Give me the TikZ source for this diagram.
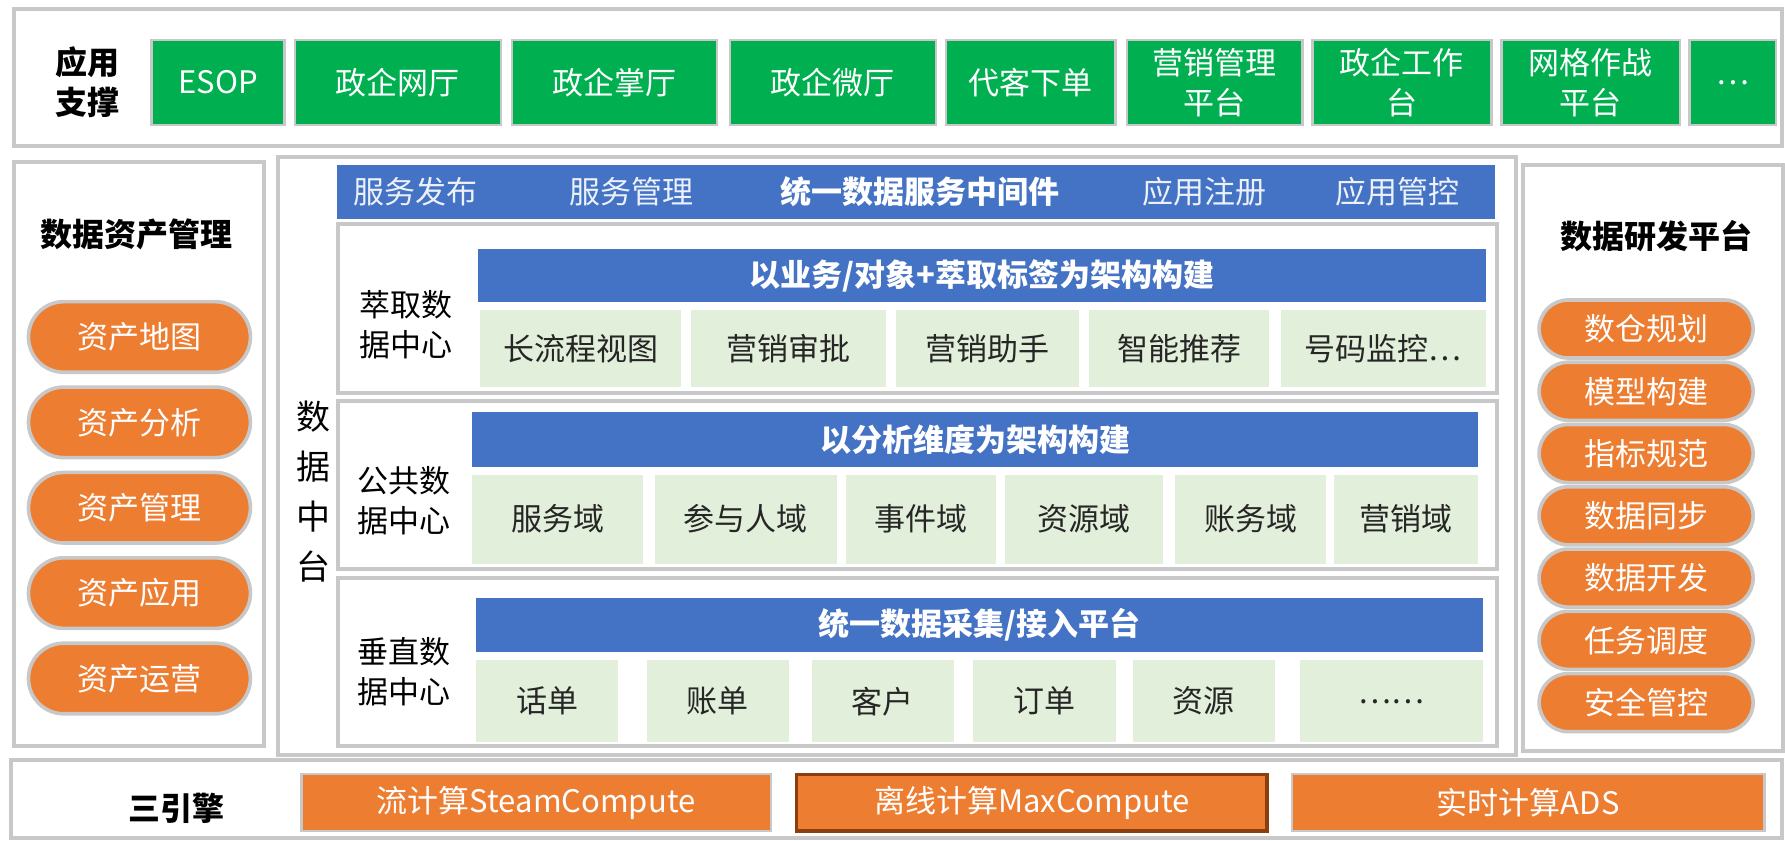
\documentclass[tikz,border=0pt]{standalone}
\usepackage{fontspec}
\setmainfont{Noto Sans CJK SC}
\usetikzlibrary{shapes.misc}

\definecolor{appgreen}{RGB}{0,176,80}
\definecolor{barblue}{RGB}{68,114,196}
\definecolor{pillorange}{RGB}{237,125,49}
\definecolor{cellgreen}{RGB}{226,239,218}
\definecolor{edgegray}{RGB}{200,200,200}
\definecolor{darkbrown}{RGB}{140,62,14}

\begin{document}
\begin{tikzpicture}[x=0.5692pt, y=-0.5692pt,
  wh/.style 2 args={minimum width=#1*0.5692pt, minimum height=#2*0.5692pt},
  every node/.style={inner sep=0pt, align=center, font=\fontsize{15.5}{20}\selectfont},
  panel/.style={draw=edgegray, line width=2pt, fill=white},
  appbox/.style={fill=appgreen, draw=edgegray, line width=1.2pt, text=white},
  pill/.style={rounded rectangle, fill=pillorange, draw=edgegray, line width=1.8pt, text=white},
  bar/.style={fill=barblue, text=white},
  cell/.style={fill=cellgreen, text=black!85},
  engine/.style={fill=pillorange, draw=edgegray, line width=1.2pt, text=white},
  heading/.style={font=\fontsize{16}{20}\selectfont\bfseries, text=black}]

\useasboundingbox (0,0) rectangle (1568,738);

% les cadres
\node[panel, wh={1553}{120}] (apps) at (788.5,68) {};
\node[panel, wh={220}{513}] (assets) at (122,398.5) {};
\node[panel, wh={1088}{525}] (middle) at (788,400.5) {};
\node[panel, wh={228}{515}] (devplat) at (1452,402.5) {};
\node[panel, wh={1555}{68}] (engines) at (787.5,702) {};

% applications
\node[heading] (appsT) at (77,72) {应用\\支撑};
\node[appbox, wh={117}{75}] (esop) at (191.5,72.5) {ESOP};
\node[appbox, wh={181}{75}] (wangting) at (349.5,72.5) {政企网厅};
\node[appbox, wh={180}{75}] (zhangting) at (540,72.5) {政企掌厅};
\node[appbox, wh={181}{75}] (weiting) at (731.5,72.5) {政企微厅};
\node[appbox, wh={149}{75}] (daike) at (905.5,72.5) {代客下单};
\node[appbox, wh={154}{75}] (yingxiao) at (1067,72.5) {营销管理\\平台};
\node[appbox, wh={157}{75}] (gongzuo) at (1231.5,72.5) {政企工作\\台};
\node[appbox, wh={157}{75}] (wangge) at (1397.5,72.5) {网格作战\\平台};
\node[appbox, wh={76}{75}] (appmore) at (1522,72.5) {…};

% gestion des actifs
\node[heading] (assetsT) at (120,206) {数据资产管理};
\foreach \t [count=\i] in {资产地图,资产分析,资产管理,资产应用,资产运营}
  \node[pill, wh={195}{62}] (asset\i) at (122.5,{296+75*(\i-1)}) {\t};

% plateforme de dev
\node[heading] (devT) at (1455,207) {数据研发平台};
\foreach \t [count=\i] in {数仓规划,模型构建,指标规范,数据同步,数据开发,任务调度,安全管控}
  \node[pill, wh={188}{51}] (dev\i) at (1446,{289+54.7*(\i-1)}) {\t};

% le milieu
\node[font=\fontsize{17}{25}\selectfont] (midT) at (275,432) {数\\据\\中\\台};
\node[bar, wh={1017}{47}] (svcbar) at (804.5,168.5) {};
\node[text=white!90!barblue] (svc1) at (365,168) {服务发布};
\node[text=white!90!barblue] (svc2) at (555,168) {服务管理};
\node[text=white, font=\fontsize{15.5}{20}\selectfont\bfseries] (svc3) at (808,168) {统一数据服务中间件};
\node[text=white!90!barblue] (svc4) at (1058,168) {应用注册};
\node[text=white!90!barblue] (svc5) at (1228,168) {应用管控};

% centre extraction
\node[panel, wh={1018}{148}] (cuiqu) at (806,271) {};
\node (cuiquT) at (357,285) {萃取数\\据中心};
\node[bar, wh={885}{46}, font=\fontsize{15.5}{20}\selectfont\bfseries] (cuiquBar) at (862.5,242) {以业务/对象+萃取标签为架构构建};
\node[cell, wh={176}{68}] (cq1) at (510,306) {长流程视图};
\node[cell, wh={171}{68}] (cq2) at (692.5,306) {营销审批};
\node[cell, wh={161}{68}] (cq3) at (867.5,306) {营销助手};
\node[cell, wh={158}{68}] (cq4) at (1036,306) {智能推荐};
\node[cell, wh={180}{68}] (cq5) at (1215,306) {号码监控…};

% centre public
\node[panel, wh={1018}{148}] (gonggong) at (806,426) {};
\node (gonggongT) at (355,440) {公共数\\据中心};
\node[bar, wh={883}{48}, font=\fontsize{15.5}{20}\selectfont\bfseries] (gonggongBar) at (856.5,386) {以分析维度为架构构建};
\node[cell, wh={150}{78}] (gg1) at (490,456) {服务域};
\node[cell, wh={160}{78}] (gg2) at (655,456) {参与人域};
\node[cell, wh={132}{78}] (gg3) at (809,456) {事件域};
\node[cell, wh={139}{78}] (gg4) at (952.5,456) {资源域};
\node[cell, wh={133}{78}] (gg5) at (1098.5,456) {账务域};
\node[cell, wh={126}{78}] (gg6) at (1235,456) {营销域};

% centre vertical
\node[panel, wh={1018}{147}] (chuizhi) at (806,581.5) {};
\node (chuizhiT) at (355,590) {垂直数\\据中心};
\node[bar, wh={885}{48}, font=\fontsize{15.5}{20}\selectfont\bfseries] (chuizhiBar) at (860.5,549) {统一数据采集/接入平台};
\node[cell, wh={125}{72}] (cz1) at (480.5,616) {话单};
\node[cell, wh={125}{72}] (cz2) at (630.5,616) {账单};
\node[cell, wh={125}{72}] (cz3) at (775.5,616) {客户};
\node[cell, wh={125}{72}] (cz4) at (917.5,616) {订单};
\node[cell, wh={125}{72}] (cz5) at (1057.5,616) {资源};
\node[cell, wh={161}{72}] (cz6) at (1222.5,616) {……};

% moteurs
\node[heading] (enginesT) at (155,710) {三引擎};
\node[engine, wh={412}{50}] (eng1) at (471,705) {流计算SteamCompute};
\node[engine, wh={413}{50}, draw=darkbrown, line width=1.6pt] (eng2) at (906.5,705) {离线计算MaxCompute};
\node[engine, wh={415}{50}] (eng3) at (1342.5,705) {实时计算ADS};

\end{tikzpicture}
\end{document}
